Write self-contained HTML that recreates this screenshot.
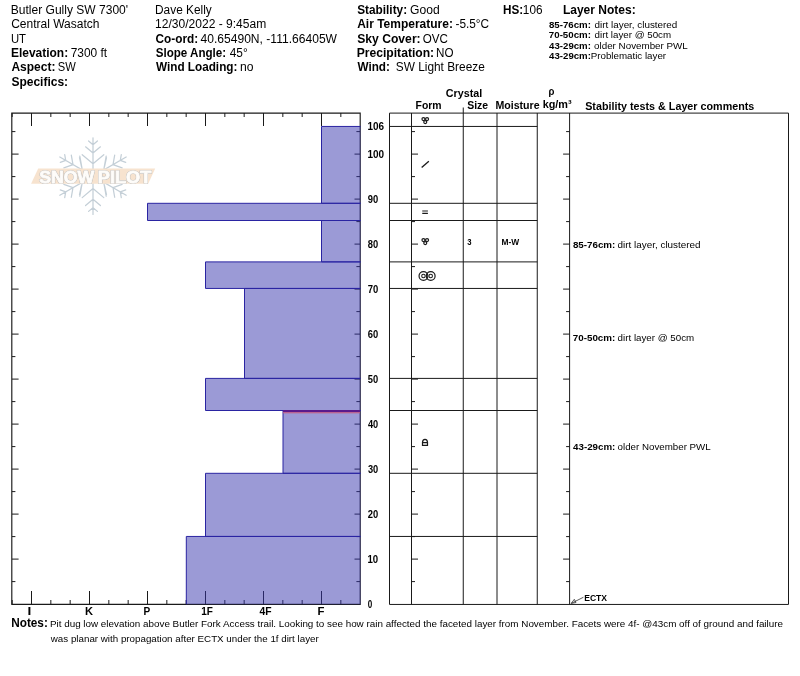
<!DOCTYPE html>
<html><head><meta charset="utf-8"><title>Snow Pit Profile</title>
<style>html,body{margin:0;padding:0;background:#fff}svg{display:block}text{font-family:"Liberation Sans",Arial,sans-serif;fill:#000}.b{font-weight:bold}</style>
</head><body>
<svg width="800" height="676" viewBox="0 0 800 676">
<rect width="800" height="676" fill="#fff"/>
<g id="header">
<text x="10.80" y="13.75" font-size="12" textLength="117.32" lengthAdjust="spacingAndGlyphs">Butler Gully SW 7300'</text>
<text x="11.15" y="28.15" font-size="12" textLength="88.36" lengthAdjust="spacingAndGlyphs">Central Wasatch</text>
<text x="10.90" y="42.55" font-size="12" textLength="15.08" lengthAdjust="spacingAndGlyphs">UT</text>
<text x="10.95" y="56.95" font-size="12" class="b" textLength="57.19" lengthAdjust="spacingAndGlyphs">Elevation:</text>
<text x="70.65" y="56.95" font-size="12" textLength="36.45" lengthAdjust="spacingAndGlyphs">7300 ft</text>
<text x="11.45" y="71.35" font-size="12" class="b" textLength="43.96" lengthAdjust="spacingAndGlyphs">Aspect:</text>
<text x="57.78" y="71.35" font-size="12" textLength="17.99" lengthAdjust="spacingAndGlyphs">SW</text>
<text x="11.45" y="85.75" font-size="12" class="b" textLength="56.69" lengthAdjust="spacingAndGlyphs">Specifics:</text>
<text x="155.06" y="13.75" font-size="12" textLength="56.70" lengthAdjust="spacingAndGlyphs">Dave Kelly</text>
<text x="155.10" y="28.15" font-size="12" textLength="111.16" lengthAdjust="spacingAndGlyphs">12/30/2022 - 9:45am</text>
<text x="155.56" y="42.55" font-size="12" class="b" textLength="42.59" lengthAdjust="spacingAndGlyphs">Co-ord:</text>
<text x="200.50" y="42.55" font-size="12" textLength="136.51" lengthAdjust="spacingAndGlyphs">40.65490N, -111.66405W</text>
<text x="155.71" y="56.95" font-size="12" class="b" textLength="70.39" lengthAdjust="spacingAndGlyphs">Slope Angle:</text>
<text x="229.75" y="56.95" font-size="12" textLength="17.94" lengthAdjust="spacingAndGlyphs">45°</text>
<text x="156.00" y="71.35" font-size="12" class="b" textLength="81.38" lengthAdjust="spacingAndGlyphs">Wind Loading:</text>
<text x="239.99" y="71.35" font-size="12" textLength="13.51" lengthAdjust="spacingAndGlyphs">no</text>
<text x="357.20" y="13.75" font-size="12" class="b" textLength="49.90" lengthAdjust="spacingAndGlyphs">Stability:</text>
<text x="410.14" y="13.75" font-size="12" textLength="29.62" lengthAdjust="spacingAndGlyphs">Good</text>
<text x="357.20" y="28.15" font-size="12" class="b" textLength="95.70" lengthAdjust="spacingAndGlyphs">Air Temperature:</text>
<text x="455.51" y="28.15" font-size="12" textLength="33.63" lengthAdjust="spacingAndGlyphs">-5.5°C</text>
<text x="357.20" y="42.55" font-size="12" class="b" textLength="63.47" lengthAdjust="spacingAndGlyphs">Sky Cover:</text>
<text x="422.72" y="42.55" font-size="12" textLength="25.17" lengthAdjust="spacingAndGlyphs">OVC</text>
<text x="356.69" y="56.95" font-size="12" class="b" textLength="77.45" lengthAdjust="spacingAndGlyphs">Precipitation:</text>
<text x="436.08" y="56.95" font-size="12" textLength="17.46" lengthAdjust="spacingAndGlyphs">NO</text>
<text x="357.50" y="71.35" font-size="12" class="b" textLength="32.38" lengthAdjust="spacingAndGlyphs">Wind:</text>
<text x="395.76" y="71.35" font-size="12" textLength="89.03" lengthAdjust="spacingAndGlyphs">SW Light Breeze</text>
<text x="502.97" y="13.75" font-size="12" class="b" textLength="20.17" lengthAdjust="spacingAndGlyphs">HS:</text>
<text x="522.87" y="13.75" font-size="12" textLength="19.65" lengthAdjust="spacingAndGlyphs">106</text>
<text x="562.95" y="13.75" font-size="12" class="b" textLength="72.70" lengthAdjust="spacingAndGlyphs">Layer Notes:</text>
<text x="548.96" y="27.50" font-size="9.9" class="b" textLength="41.95" lengthAdjust="spacingAndGlyphs">85-76cm:</text>
<text x="594.60" y="27.50" font-size="9.9" textLength="82.74" lengthAdjust="spacingAndGlyphs">dirt layer, clustered</text>
<text x="548.86" y="38.00" font-size="9.9" class="b" textLength="42.05" lengthAdjust="spacingAndGlyphs">70-50cm:</text>
<text x="594.61" y="38.00" font-size="9.9" textLength="76.51" lengthAdjust="spacingAndGlyphs">dirt layer @ 50cm</text>
<text x="549.10" y="48.50" font-size="9.9" class="b" textLength="41.80" lengthAdjust="spacingAndGlyphs">43-29cm:</text>
<text x="594.10" y="48.50" font-size="9.9" textLength="93.68" lengthAdjust="spacingAndGlyphs">older November PWL</text>
<text x="549.10" y="59.00" font-size="9.9" class="b" textLength="41.80" lengthAdjust="spacingAndGlyphs">43-29cm:</text>
<text x="590.71" y="59.00" font-size="9.9" textLength="75.42" lengthAdjust="spacingAndGlyphs">Problematic layer</text>
</g>
<g id="logo">
<path d="M93.00 176.15L93.00 137.85M93.00 144.65L88.56 140.92M93.00 144.65L97.44 140.92M93.00 153.05L85.57 146.81M93.00 153.05L100.43 146.81M93.00 163.75L82.20 154.69M93.00 163.75L103.80 154.69M93.00 176.15L126.17 157.00M120.28 160.40L121.29 154.69M120.28 160.40L125.73 162.38M113.01 164.60L114.69 155.05M113.01 164.60L122.12 167.92M103.74 169.95L106.19 156.06M103.74 169.95L116.99 174.77M93.00 176.15L126.17 195.30M120.28 191.90L125.73 189.92M120.28 191.90L121.29 197.61M113.01 187.70L122.12 184.38M113.01 187.70L114.69 197.25M103.74 182.35L116.99 177.53M103.74 182.35L106.19 196.24M93.00 176.15L93.00 214.45M93.00 207.65L97.44 211.38M93.00 207.65L88.56 211.38M93.00 199.25L100.43 205.49M93.00 199.25L85.57 205.49M93.00 188.55L103.80 197.61M93.00 188.55L82.20 197.61M93.00 176.15L59.83 195.30M65.72 191.90L64.71 197.61M65.72 191.90L60.27 189.92M72.99 187.70L71.31 197.25M72.99 187.70L63.88 184.38M82.26 182.35L79.81 196.24M82.26 182.35L69.01 177.53M93.00 176.15L59.83 157.00M65.72 160.40L60.27 162.38M65.72 160.40L64.71 154.69M72.99 164.60L63.88 167.92M72.99 164.60L71.31 155.05M82.26 169.95L69.01 174.77M82.26 169.95L79.81 156.06M79.50 157.55L81.50 166.55M79.50 194.75L81.50 185.75M106.50 157.55L104.50 166.55M106.50 194.75L104.50 185.75" stroke="#c4cfd7" stroke-width="1.25" fill="none" stroke-linecap="round"/>
<path d="M38.2 168.5H155.2L148.2 183.7H31.1Z" fill="#f7e3cf"/>
<text x="39.2" y="183.1" font-size="17.4" class="b" textLength="55" lengthAdjust="spacingAndGlyphs" style="fill:#fefcf9;stroke:#bcbcbc;stroke-width:1.7;stroke-linejoin:round">SNOW</text>
<text x="39.2" y="183.1" font-size="17.4" class="b" textLength="55" lengthAdjust="spacingAndGlyphs" style="fill:#fefcf9;stroke:#fefcf9;stroke-width:0.8;stroke-linejoin:round">SNOW</text>
<text x="97.8" y="183.1" font-size="17.4" class="b" textLength="53.6" lengthAdjust="spacingAndGlyphs" style="fill:#fefcf9;stroke:#bcbcbc;stroke-width:1.7;stroke-linejoin:round">PILOT</text>
<text x="97.8" y="183.1" font-size="17.4" class="b" textLength="53.6" lengthAdjust="spacingAndGlyphs" style="fill:#fefcf9;stroke:#fefcf9;stroke-width:0.8;stroke-linejoin:round">PILOT</text>
</g>
<g stroke="#1a1a1a" stroke-width="1" fill="none">
<path d="M11.8 604.3 V113.1 H360.2 V604.3 Z" stroke-width="1.15"/>
<path d="M12.17 113.0 v4 M12.17 604.0 v-4 M31.50 113.0 v13 M31.50 604.0 v-13 M50.83 113.0 v4 M50.83 604.0 v-4 M70.17 113.0 v4 M70.17 604.0 v-4 M89.50 113.0 v13 M89.50 604.0 v-13 M108.83 113.0 v4 M108.83 604.0 v-4 M128.17 113.0 v4 M128.17 604.0 v-4 M147.50 113.0 v13 M147.50 604.0 v-13 M166.83 113.0 v4 M166.83 604.0 v-4 M186.17 113.0 v4 M186.17 604.0 v-4 M205.50 113.0 v13 M205.50 604.0 v-13 M224.83 113.0 v4 M224.83 604.0 v-4 M244.17 113.0 v4 M244.17 604.0 v-4 M263.50 113.0 v13 M263.50 604.0 v-13 M282.83 113.0 v4 M282.83 604.0 v-4 M302.17 113.0 v4 M302.17 604.0 v-4 M321.50 113.0 v13 M321.50 604.0 v-13 M340.83 113.0 v4 M340.83 604.0 v-4 "/>
<path d="M12.0 581.6 h3.4 M360.0 581.6 h-3.6 M12.0 559.1 h6.6 M360.0 559.1 h-5.5 M12.0 536.6 h3.4 M360.0 536.6 h-3.6 M12.0 514.1 h6.6 M360.0 514.1 h-5.5 M12.0 491.6 h3.4 M360.0 491.6 h-3.6 M12.0 469.1 h6.6 M360.0 469.1 h-5.5 M12.0 446.6 h3.4 M360.0 446.6 h-3.6 M12.0 424.1 h6.6 M360.0 424.1 h-5.5 M12.0 401.6 h3.4 M360.0 401.6 h-3.6 M12.0 379.1 h6.6 M360.0 379.1 h-5.5 M12.0 356.6 h3.4 M360.0 356.6 h-3.6 M12.0 334.1 h6.6 M360.0 334.1 h-5.5 M12.0 311.6 h3.4 M360.0 311.6 h-3.6 M12.0 289.1 h6.6 M360.0 289.1 h-5.5 M12.0 266.6 h3.4 M360.0 266.6 h-3.6 M12.0 244.1 h6.6 M360.0 244.1 h-5.5 M12.0 221.6 h3.4 M360.0 221.6 h-3.6 M12.0 199.1 h6.6 M360.0 199.1 h-5.5 M12.0 176.6 h3.4 M360.0 176.6 h-3.6 M12.0 154.1 h6.6 M360.0 154.1 h-5.5 M12.0 131.6 h3.4 M360.0 131.6 h-3.6 "/>
</g>
<g id="bars">
<rect x="321.5" y="126.45" width="39.0" height="76.85000000000001" fill="#3735ad" fill-opacity="0.5"/><path d="M360.5 126.45H321.5V203.3H360.5" fill="none" stroke="#2a24a2" stroke-width="1"/>
<rect x="147.5" y="203.3" width="213.0" height="17.19999999999999" fill="#3735ad" fill-opacity="0.5"/><path d="M360.5 203.3H147.5V220.5H360.5" fill="none" stroke="#2a24a2" stroke-width="1"/>
<rect x="321.5" y="220.5" width="39.0" height="41.39999999999998" fill="#3735ad" fill-opacity="0.5"/><path d="M360.5 220.5H321.5V261.9H360.5" fill="none" stroke="#2a24a2" stroke-width="1"/>
<rect x="205.5" y="261.9" width="155.0" height="26.55000000000001" fill="#3735ad" fill-opacity="0.5"/><path d="M360.5 261.9H205.5V288.45H360.5" fill="none" stroke="#2a24a2" stroke-width="1"/>
<rect x="244.5" y="288.45" width="116.0" height="89.94999999999999" fill="#3735ad" fill-opacity="0.5"/><path d="M360.5 288.45H244.5V378.4H360.5" fill="none" stroke="#2a24a2" stroke-width="1"/>
<rect x="205.5" y="378.4" width="155.0" height="32.10000000000002" fill="#3735ad" fill-opacity="0.5"/><path d="M360.5 378.4H205.5V410.5H360.5" fill="none" stroke="#2a24a2" stroke-width="1"/>
<rect x="283" y="410.5" width="77.5" height="62.80000000000001" fill="#3735ad" fill-opacity="0.5"/><path d="M360.5 410.5H283V473.3H360.5" fill="none" stroke="#2a24a2" stroke-width="1"/>
<rect x="205.5" y="473.3" width="155.0" height="63.150000000000034" fill="#3735ad" fill-opacity="0.5"/><path d="M360.5 473.3H205.5V536.45H360.5" fill="none" stroke="#2a24a2" stroke-width="1"/>
<rect x="186.3" y="536.45" width="174.2" height="67.84999999999991" fill="#3735ad" fill-opacity="0.5"/><path d="M360.5 536.45H186.3V604.3" fill="none" stroke="#2a24a2" stroke-width="1"/>
<rect x="283" y="410" width="77.0" height="2.2" fill="#5a1a8c"/>
<rect x="283" y="412.2" width="77.0" height="1.1" fill="#c45c86"/>
</g>
<text x="27.40" y="615.40" font-size="10.6" class="b" textLength="3.80" lengthAdjust="spacingAndGlyphs">I</text>
<text x="85.01" y="615.40" font-size="10.6" class="b" textLength="8.04" lengthAdjust="spacingAndGlyphs">K</text>
<text x="143.58" y="615.40" font-size="10.6" class="b" textLength="6.72" lengthAdjust="spacingAndGlyphs">P</text>
<text x="201.29" y="615.40" font-size="10.6" class="b" textLength="11.66" lengthAdjust="spacingAndGlyphs">1F</text>
<text x="259.45" y="615.40" font-size="10.6" class="b" textLength="12.11" lengthAdjust="spacingAndGlyphs">4F</text>
<text x="317.45" y="615.40" font-size="10.6" class="b" textLength="6.95" lengthAdjust="spacingAndGlyphs">F</text>
<text x="367.79" y="607.60" font-size="10.6" class="b" textLength="4.51" lengthAdjust="spacingAndGlyphs">0</text>
<text x="367.51" y="562.60" font-size="10.6" class="b" textLength="10.75" lengthAdjust="spacingAndGlyphs">10</text>
<text x="367.79" y="517.60" font-size="10.6" class="b" textLength="10.46" lengthAdjust="spacingAndGlyphs">20</text>
<text x="367.93" y="472.60" font-size="10.6" class="b" textLength="10.32" lengthAdjust="spacingAndGlyphs">30</text>
<text x="367.97" y="427.60" font-size="10.6" class="b" textLength="10.27" lengthAdjust="spacingAndGlyphs">40</text>
<text x="367.84" y="382.60" font-size="10.6" class="b" textLength="10.41" lengthAdjust="spacingAndGlyphs">50</text>
<text x="367.79" y="337.60" font-size="10.6" class="b" textLength="10.46" lengthAdjust="spacingAndGlyphs">60</text>
<text x="367.70" y="292.60" font-size="10.6" class="b" textLength="10.55" lengthAdjust="spacingAndGlyphs">70</text>
<text x="367.84" y="247.60" font-size="10.6" class="b" textLength="10.41" lengthAdjust="spacingAndGlyphs">80</text>
<text x="367.79" y="202.60" font-size="10.6" class="b" textLength="10.46" lengthAdjust="spacingAndGlyphs">90</text>
<text x="367.49" y="157.60" font-size="10.6" class="b" textLength="16.68" lengthAdjust="spacingAndGlyphs">100</text>
<text x="367.49" y="130.10" font-size="10.6" class="b" textLength="16.63" lengthAdjust="spacingAndGlyphs">106</text>
<g stroke="#1a1a1a" stroke-width="1" fill="none">
<path d="M389.5 113.1 H788.5 V604.45 H389.5 Z"/>
<path d="M411.5 113.0 V604.45 M463.25 107.5 V604.45 M497 113.0 V604.45 M537.25 113.0 V604.45 M569.6 113.0 V604.45 "/>
<path d="M389.5 126.45 H537.25 M389.5 203.3 H537.25 M389.5 220.5 H537.25 M389.5 261.9 H537.25 M389.5 288.45 H537.25 M389.5 378.4 H537.25 M389.5 410.5 H537.25 M389.5 473.3 H537.25 M389.5 536.45 H537.25 "/>
<path d="M411.5 581.6 h3.5 M569.6 581.6 h-3.5 M411.5 559.1 h6.5 M569.6 559.1 h-6.5 M411.5 536.6 h3.5 M569.6 536.6 h-3.5 M411.5 514.1 h6.5 M569.6 514.1 h-6.5 M411.5 491.6 h3.5 M569.6 491.6 h-3.5 M411.5 469.1 h6.5 M569.6 469.1 h-6.5 M411.5 446.6 h3.5 M569.6 446.6 h-3.5 M411.5 424.1 h6.5 M569.6 424.1 h-6.5 M411.5 401.6 h3.5 M569.6 401.6 h-3.5 M411.5 379.1 h6.5 M569.6 379.1 h-6.5 M411.5 356.6 h3.5 M569.6 356.6 h-3.5 M411.5 334.1 h6.5 M569.6 334.1 h-6.5 M411.5 311.6 h3.5 M569.6 311.6 h-3.5 M411.5 289.1 h6.5 M569.6 289.1 h-6.5 M411.5 266.6 h3.5 M569.6 266.6 h-3.5 M411.5 244.1 h6.5 M569.6 244.1 h-6.5 M411.5 221.6 h3.5 M569.6 221.6 h-3.5 M411.5 199.1 h6.5 M569.6 199.1 h-6.5 M411.5 176.6 h3.5 M569.6 176.6 h-3.5 M411.5 154.1 h6.5 M569.6 154.1 h-6.5 M411.5 131.6 h3.5 M569.6 131.6 h-3.5 "/>
</g>
<text x="445.79" y="97.40" font-size="10.6" class="b" textLength="36.46" lengthAdjust="spacingAndGlyphs">Crystal</text>
<text x="415.56" y="109.30" font-size="10.6" class="b" textLength="26.03" lengthAdjust="spacingAndGlyphs">Form</text>
<text x="467.20" y="109.30" font-size="10.6" class="b" textLength="20.95" lengthAdjust="spacingAndGlyphs">Size</text>
<text x="495.40" y="109.30" font-size="10.6" class="b" textLength="44.22" lengthAdjust="spacingAndGlyphs">Moisture</text>
<text x="548.46" y="95.00" font-size="10.6" class="b" textLength="5.91" lengthAdjust="spacingAndGlyphs">ρ</text>
<text x="542.68" y="107.50" font-size="10.6" class="b" textLength="28.99" lengthAdjust="spacingAndGlyphs">kg/m³</text>
<text x="585.20" y="109.75" font-size="10.6" class="b" textLength="169.12" lengthAdjust="spacingAndGlyphs">Stability tests &amp; Layer comments</text>
<g id="symbols" stroke="#1a1a1a" fill="none" stroke-width="1.2">
<circle cx="423.45" cy="119.1" r="1.5"/><circle cx="427.05" cy="119.1" r="1.5"/><circle cx="425.25" cy="122.1" r="1.5"/>
<circle cx="423.45" cy="240.1" r="1.5"/><circle cx="427.05" cy="240.1" r="1.5"/><circle cx="425.25" cy="243.1" r="1.5"/>
<path d="M421.65 167.6L428.85 161.25" stroke-width="1.3"/>
<path d="M422.25 211H427.9M422.25 213.4H427.9" stroke-width="1.1"/>
<circle cx="423.45" cy="276" r="4.4"/><circle cx="423.45" cy="276" r="1.75" stroke-width="1.05"/><circle cx="430.7" cy="276" r="4.4"/><circle cx="430.7" cy="276" r="1.75" stroke-width="1.05"/>
<path d="M422.5 442.6H427.5V445.3H422.5ZM422.5 442.6A2.5 3.2 0 0 1 427.5 442.6"/>
</g>
<text x="467.16" y="244.50" font-size="8.5" class="b" textLength="4.29" lengthAdjust="spacingAndGlyphs">3</text>
<text x="501.46" y="244.50" font-size="8.5" class="b" textLength="17.73" lengthAdjust="spacingAndGlyphs">M-W</text>
<text x="572.90" y="248.40" font-size="9.9" class="b" textLength="42.41" lengthAdjust="spacingAndGlyphs">85-76cm:</text>
<text x="617.60" y="248.40" font-size="9.9" textLength="82.99" lengthAdjust="spacingAndGlyphs">dirt layer, clustered</text>
<text x="572.80" y="341.40" font-size="9.9" class="b" textLength="42.51" lengthAdjust="spacingAndGlyphs">70-50cm:</text>
<text x="617.61" y="341.40" font-size="9.9" textLength="76.61" lengthAdjust="spacingAndGlyphs">dirt layer @ 50cm</text>
<text x="573.05" y="449.60" font-size="9.9" class="b" textLength="42.26" lengthAdjust="spacingAndGlyphs">43-29cm:</text>
<text x="617.61" y="449.60" font-size="9.9" textLength="93.08" lengthAdjust="spacingAndGlyphs">older November PWL</text>
<text x="584.20" y="601.00" font-size="8.6" class="b" textLength="22.88" lengthAdjust="spacingAndGlyphs">ECTX</text>
<path d="M583.4 597.25L571.2 603.4M571.2 603.4L574.3 599.3L576 602.5Z" stroke="#333" stroke-width="0.8" fill="none"/>
<text x="11.21" y="627.00" font-size="12" class="b" textLength="36.65" lengthAdjust="spacingAndGlyphs">Notes:</text>
<text x="49.95" y="627.00" font-size="9.9" textLength="733.05" lengthAdjust="spacingAndGlyphs">Pit dug low elevation above Butler Fork Access trail. Looking to see how rain affected the faceted layer from November. Facets were 4f- @43cm off of ground and failure</text>
<text x="50.80" y="642.00" font-size="9.9" textLength="267.95" lengthAdjust="spacingAndGlyphs">was planar with propagation after ECTX under the 1f dirt layer</text>
</svg>
</body></html>
